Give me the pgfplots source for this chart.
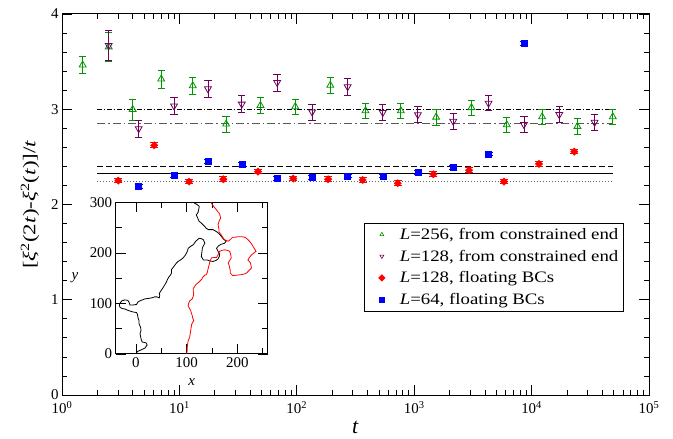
\documentclass[border=0pt]{standalone}
\usepackage{fontspec}
\setmainfont{Liberation Serif}
\newfontfamily\legfont[FakeStretch=1.18]{Liberation Serif}
\newfontfamily\ylabfont[FakeStretch=1.28]{Liberation Serif}
\usepackage{pgfplots}
\pgfplotsset{compat=1.18}
\definecolor{cgreen}{RGB}{0,150,0}
\definecolor{cpurple}{RGB}{110,0,90}

\pgfplotstableread{
t v e
1.5 3.465 0.087
2.5 3.655 0.15
4 2.998 0.11
7 3.317 0.096
13 3.247 0.089
25 2.844 0.086
49 3.04 0.082
97 3.027 0.08
193 3.252 0.084
385 2.984 0.079
769 2.984 0.079
1537 2.917 0.082
3073 3.017 0.08
6145 2.837 0.079
12289 2.921 0.079
24577 2.82 0.079
49153 2.921 0.079
}\greendata

\pgfplotstableread{
t v e
2.5 3.67 0.16
4.5 2.796 0.09
9 3.035 0.087
17.5 3.215 0.093
34 3.054 0.089
68 3.281 0.089
135 2.972 0.084
271 3.237 0.087
540 2.966 0.086
1075 2.943 0.084
2150 2.874 0.084
4300 3.063 0.08
8600 2.84 0.082
17200 2.944 0.082
34400 2.863 0.082
}\purpledata

\pgfplotstableread{
t v e
3.02 2.251 0.024
6.1 2.622 0.024
12.1 2.24 0.024
23.7 2.265 0.024
46.7 2.345 0.024
93.4 2.272 0.024
185 2.265 0.024
364 2.258 0.024
724 2.223 0.024
1456 2.318 0.024
2930 2.36 0.024
5820 2.24 0.024
11560 2.426 0.024
23100 2.555 0.024
}\reddata

\pgfplotstableread{
t v e
4.5 2.188 0.02
9 2.303 0.02
17.5 2.454 0.02
34 2.423 0.02
68 2.276 0.02
135 2.286 0.02
271 2.3 0.02
540 2.3 0.02
1075 2.339 0.02
2150 2.391 0.02
4300 2.531 0.02
8600 3.693 0.02
}\bluedata

\begin{document}
\begin{tikzpicture}
\begin{axis}[
  at={(0,0)}, anchor=south west,
  scale only axis, width=587bp, height=381bp,
  xmode=log, xmin=1, xmax=1e5, ymin=0, ymax=4,
  ytick={0,1,2,3,4}, minor y tick num=4,
  xtick={1,10,100,1000,10000,100000},
  xticklabels={10\textsuperscript{0},10\textsuperscript{1},10\textsuperscript{2},10\textsuperscript{3},10\textsuperscript{4},10\textsuperscript{5}},
  minor xtick={2,3,4,5,6,7,8,9,20,30,40,50,60,70,80,90,200,300,400,500,600,700,800,900,2000,3000,4000,5000,6000,7000,8000,9000,20000,30000,40000,50000,60000,70000,80000,90000},
  tick align=inside,
  major tick length=10bp, minor tick length=5bp,
  /pgf/number format/assume math mode=true,
  tick label style={font=\fontsize{15}{18}\selectfont},
  xticklabel style={yshift=-3bp},
  axis line style={line width=1bp},
  every tick/.style={black, line width=0.7bp},
  xlabel={\fontsize{22}{24}\selectfont\textit{t}},
  xlabel style={at={(rel axis cs:0.5,-0.086)}, anchor=center},
  ylabel={\ylabfont\fontsize{18}{22}\selectfont [\textit{ξ}\textsuperscript{2}(2\textit{t})-\textit{ξ}\textsuperscript{2}(\textit{t})]/\textit{t}},
  ylabel style={at={(rel axis cs:-0.0545,0.5)}, anchor=center},
  legend style={at={(rel axis cs:0.957,0.452)}, anchor=north east, draw=black, line width=0.8bp,
    font=\legfont\fontsize{16}{19}\selectfont, row sep=5bp, inner xsep=3bp, inner ysep=3bp},
  legend cell align=left,
  legend image code/.code={\path (0cm,0cm) (1.05cm,0cm); \draw[#1, mark size=2.3pt, line width=0.6bp] plot coordinates {(0.5cm,0cm)};},
]
% reference lines
\addplot[black, line width=0.6bp, dash pattern=on 5pt off 2pt on 1pt off 2pt, forget plot] coordinates {(2,3.0) (49152,3.0)};
\addplot[black!65, line width=0.6bp, dash pattern=on 8pt off 3pt on 1.5pt off 3pt, forget plot] coordinates {(2,2.853) (49152,2.853)};
\addplot[black, line width=0.6bp, dash pattern=on 6pt off 3pt, forget plot] coordinates {(2,2.405) (49152,2.405)};
\addplot[black, line width=0.6bp, forget plot] coordinates {(2,2.324) (49152,2.324)};
\addplot[black!60, line width=0.6bp, dash pattern=on 1pt off 2pt, forget plot] coordinates {(2,2.24) (49152,2.24)};

\addplot[only marks, mark=triangle, mark size=4pt, color=cgreen, line width=0.8bp,
  error bars/.cd, y dir=both, y explicit,
  error bar style={cgreen, line width=0.8bp},
  error mark options={rotate=90, mark size=3.7pt, cgreen, line width=0.8bp}]
  table[x=t, y=v, y error=e] {\greendata};
\addlegendentry{\textit{L}=256, from constrained end}

\addplot[only marks, mark=triangle, mark size=4pt, mark options={rotate=180}, color=cpurple, line width=0.8bp,
  error bars/.cd, y dir=both, y explicit,
  error bar style={cpurple, line width=0.8bp},
  error mark options={rotate=90, mark size=3.7pt, cpurple, line width=0.8bp}]
  table[x=t, y=v, y error=e] {\purpledata};
\addlegendentry{\textit{L}=128, from constrained end}

\addplot[only marks, mark=square*, mark size=2.6pt, mark options={rotate=45}, color=red, line width=0.4bp,
  error bars/.cd, y dir=both, y explicit,
  error bar style={red, line width=0.9bp},
  error mark options={rotate=90, mark size=4pt, red, line width=1bp}]
  table[x=t, y=v, y error=e] {\reddata};
\addlegendentry{\textit{L}=128, floating BCs}

\addplot[only marks, mark=square*, mark size=3pt, color=blue, line width=0.4bp,
  error bars/.cd, y dir=both, y explicit,
  error bar style={blue, line width=0.9bp},
  error mark options={rotate=90, mark size=4pt, blue, line width=1bp}]
  table[x=t, y=v, y error=e] {\bluedata};
\addlegendentry{\textit{L}=64, floating BCs}
\end{axis}

\begin{axis}[
  at={(53.7bp,41bp)}, anchor=south west,
  scale only axis, width=152bp, height=151.7bp,
  xmin=-40, xmax=260, ymin=0, ymax=300,
  xtick={0,100,200}, ytick={0,100,200,300},
  minor xtick={50,150,250}, minor ytick={50,150,250},
  tick align=inside,
  major tick length=10bp, minor tick length=6bp,
  axis line style={line width=1bp},
  every tick/.style={black, line width=0.7bp},
  axis background/.style={fill=white},
  /pgf/number format/assume math mode=true,
  tick label style={font=\fontsize{15}{18}\selectfont},
  xlabel={\fontsize{15}{18}\selectfont\textit{x}},
  xlabel style={at={(rel axis cs:0.5,-0.183)}, anchor=center},
  ylabel={\fontsize{15}{18}\selectfont\textit{y}},
  ylabel style={rotate=-90, at={(rel axis cs:-0.268,0.5)}, anchor=center},
]
\addplot[black, line width=0.8bp] coordinates {
(0,0) (3,5) (10,8) (18,12) (22,18) (20,22) (12,24) (10,30) (8,40) (10,47) (9,53) (6,60) (6,66) (4,72) (3,78) (1,82) (-5,83) (-9,84) (-15,86) (-22,89) (-27,90) (-31,92) (-33,96) (-32,100) (-28,105) (-22,107) (-16,106) (-13,101) (-12,97) (-5,97) (1,98) (4,103) (10,106) (18,109) (25,110) (31,111) (37,113) (41,113) (46,111) (47,116) (46,120) (50,126) (54,132) (57,137) (60,142) (62,147) (64,151) (68,156) (70,160) (70,167) (74,172) (77,176) (80,180) (83,183) (88,186) (93,190) (97,195) (100,200) (102,205) (103,209) (108,213) (113,216) (116,220) (119,224) (125,229) (129,228) (133,226) (136,219) (133,214) (131,209) (130,200) (129,193) (133,186) (140,186) (146,184) (152,183) (158,185) (162,188) (165,194) (165,198) (162,203) (159,209) (163,214) (168,217) (175,219) (178,223) (172,228) (169,232) (164,238) (159,242) (152,246) (143,246) (138,249) (136,252) (132,256) (129,259) (125,262) (123,266) (121,271) (119,275) (122,279) (123,282) (124,287) (125,292) (120,296) (116,298) (113,301) (112,306)
};
\addplot[red, line width=0.8bp] coordinates {
(100,0) (101,6) (101,12) (102,20) (103,26) (106,33) (107,40) (108,46) (109,53) (110,59) (114,66) (112,71) (111,76) (109,82) (108,86) (105,91) (103,96) (104,100) (106,105) (111,109) (113,114) (114,119) (113,124) (113,129) (116,134) (119,138) (123,141) (127,145) (130,148) (132,152) (136,156) (139,157) (141,162) (142,167) (144,175) (146,183) (149,190) (154,191) (159,191) (162,196) (165,203) (170,205) (175,206) (180,205) (185,203) (187,197) (188,190) (185,185) (182,180) (184,175) (185,170) (186,165) (186,160) (191,155) (200,156) (208,157) (213,158) (218,160) (223,165) (228,170) (227,175) (226,180) (221,186) (224,191) (228,196) (233,200) (237,203) (234,208) (231,213) (228,218) (224,223) (220,227) (215,231) (208,232) (201,232) (196,231) (191,231) (186,226) (182,223) (175,226) (171,231) (168,236) (164,241) (164,246) (163,251) (162,256) (164,262) (167,269) (166,274) (164,279) (161,282) (159,285) (154,291) (149,298) (146,306)
};
\end{axis}
\pgfresetboundingbox
\path (-62bp,-44bp) rectangle (611bp,395bp);
\end{tikzpicture}
\end{document}
